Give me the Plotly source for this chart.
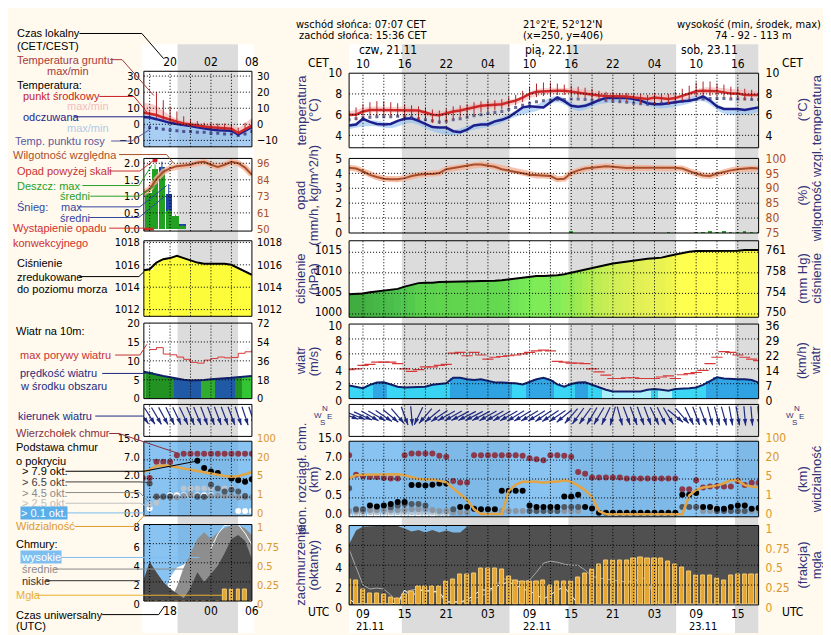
import numpy as np
import pandas as pd
import plotly.graph_objects as go

W, H = 831, 635

# ------------------------------------------------------------------ data
# main meteogram, hourly, UTC
t_start, t_end = "2024-11-21 07:00", "2024-11-23 18:00"
times = pd.date_range(t_start, t_end, freq="h")          # 60 hours

temp_mid = [6.0, 6.0, 6.3, 6.45, 6.45, 6.45, 6.45, 6.45, 6.4, 6.4,
            6.4, 6.2, 6.0, 5.95, 6.15, 6.3, 6.4, 6.55, 6.7, 6.85,
            6.9, 6.95, 7.0, 7.2, 7.35, 7.65, 8.0, 8.2, 8.25, 8.25,
            8.3, 8.3, 8.2, 8.1, 8.05, 7.95, 7.85, 7.8, 7.8, 7.75,
            7.75, 7.65, 7.6, 7.5, 7.65, 7.55, 7.5, 7.6, 7.8, 8.0,
            8.25, 8.3, 8.3, 8.25, 8.15, 8.05, 8.05, 7.9, 7.9, 7.9]
feels = [4.95, 5.05, 5.6, 5.3, 5.1, 5.05, 5.1, 5.4, 5.6, 5.65,
         5.4, 5.1, 4.8, 4.75, 4.75, 4.4, 4.3, 4.55, 4.95, 5.05,
         5.05, 5.35, 5.5, 5.75, 6.2, 6.7, 6.8, 6.77, 6.7, 7.2,
         7.65, 7.3, 6.85, 6.77, 6.85, 7.1, 7.4, 7.6, 7.6, 7.6,
         7.6, 7.5, 7.35, 7.1, 7.0, 7.0, 7.1, 7.25, 7.3, 7.35,
         7.5, 7.75, 7.35, 6.8, 6.55, 6.55, 6.55, 6.45, 6.55, 6.7]
dew_point = [5.5, 5.6, 5.7, 5.75, 5.8, 5.8, 5.8, 5.85, 5.8, 5.75,
             5.6, 5.5, 5.4, 5.3, 5.35, 5.5, 5.6, 5.75, 5.9, 6.0,
             6.1, 6.2, 6.3, 6.5, 6.7, 6.9, 7.1, 7.25, 7.35, 7.4,
             7.45, 7.45, 7.5, 7.5, 7.45, 7.4, 7.4, 7.35, 7.3, 7.25,
             7.2, 7.1, 7.05, 7.0, 7.05, 7.1, 7.1, 7.2, 7.3, 7.4,
             7.45, 7.5, 7.55, 7.55, 7.55, 7.5, 7.5, 7.5, 7.45, 7.45]
ground_max = [6.4, 6.7, 7.0, 7.2, 7.3, 7.3, 7.2, 7.1, 7.0, 6.9,
              6.8, 6.7, 6.5, 6.4, 6.6, 6.8, 6.9, 7.0, 7.2, 7.3,
              7.4, 7.4, 7.5, 7.7, 7.9, 8.3, 8.7, 9.0, 9.1, 9.1,
              9.0, 8.9, 8.8, 8.7, 8.6, 8.5, 8.3, 8.2, 8.2, 8.1,
              8.1, 8.0, 8.0, 7.9, 8.1, 8.0, 8.0, 8.2, 8.5, 8.8,
              9.1, 9.2, 9.2, 9.0, 8.9, 8.7, 8.6, 8.5, 8.4, 8.3]
ground_min = [5.6, 5.5, 5.8, 5.9, 5.9, 5.9, 5.9, 5.8, 5.7, 5.6,
              5.5, 5.4, 5.2, 5.1, 5.3, 5.5, 5.7, 5.8, 6.0, 6.2,
              6.3, 6.4, 6.5, 6.7, 6.9, 7.2, 7.5, 7.7, 7.8, 7.8,
              7.9, 7.9, 7.8, 7.7, 7.6, 7.5, 7.4, 7.3, 7.3, 7.2,
              7.2, 7.1, 7.0, 6.9, 7.0, 7.0, 7.0, 7.1, 7.3, 7.5,
              7.7, 7.8, 7.8, 7.8, 7.7, 7.6, 7.5, 7.4, 7.4, 7.4]

# temperature spread bands, every 3 hours (+ last hour)
band_times = list(times[::3]) + [times[-1]]
temp_max_3h = [6.3, 6.75, 6.75, 6.7, 6.3, 6.55, 7.0, 7.25, 7.55, 8.45, 8.6,
               8.5, 8.2, 8.05, 7.9, 7.9, 7.95, 8.6, 8.55, 8.35, 8.25]
temp_min_3h = [5.75, 6.2, 6.2, 6.15, 5.75, 6.05, 6.45, 6.7, 7.0, 7.8, 8.05,
               7.95, 7.6, 7.5, 7.35, 7.3, 7.4, 8.0, 8.0, 7.8, 7.65]
feels_max_3h = [5.1, 5.45, 5.25, 5.8, 4.95, 4.55, 5.1, 5.5, 6.35, 6.95, 7.8,
                6.95, 7.55, 7.75, 7.5, 7.15, 7.45, 7.9, 6.7, 6.6, 6.85]
feels_min_3h = [4.6, 4.9, 4.7, 5.2, 4.4, 4.0, 4.55, 4.95, 5.8, 6.35, 7.2,
                6.35, 7.0, 7.2, 6.95, 6.6, 6.9, 7.3, 6.1, 6.0, 6.25]

humidity = [96.9, 96.6, 95.7, 94.5, 93.75, 93.2, 93.0, 93.0, 93.4, 94.1,
            94.5, 94.8, 94.8, 95.1, 96.4, 96.8, 97.2, 97.7, 98.0, 98.0,
            97.7, 97.2, 96.4, 96.0, 95.5, 95.0, 94.5, 94.3, 94.3, 94.1,
            93.0, 93.2, 95.1, 96.0, 96.6, 96.9, 97.2, 97.4, 97.2, 96.9,
            96.8, 96.9, 96.9, 97.0, 97.0, 97.0, 96.9, 96.9, 96.6, 95.7,
            94.9, 94.3, 94.1, 94.9, 95.5, 96.0, 96.4, 96.6, 96.8, 96.6]
rain = [0, 0, 0, 0, 0, 0, 0, 0, 0, 0,
        0, 0, 0, 0, 0, 0, 0, 0, 0, 0,
        0, 0, 0, 0, 0, 0, 0, 0, 0, 0,
        0, 0, 0.06, 0, 0, 0, 0, 0, 0, 0,
        0, 0, 0, 0, 0, 0, 0.02, 0, 0, 0,
        0.03, 0.03, 0.04, 0.03, 0.04, 0.03, 0.03, 0.04, 0.03, 0.02]
pressure = [1004.8, 1004.9, 1005.0, 1005.3, 1005.5, 1005.7, 1005.8, 1006.1, 1006.65, 1007.0,
            1007.5, 1007.6, 1007.6, 1007.8, 1007.8, 1007.9, 1007.9, 1007.95, 1007.95, 1008.0,
            1008.0, 1008.1, 1008.2, 1008.4, 1008.6, 1008.8, 1009.1, 1009.25, 1009.25, 1009.25,
            1009.4, 1009.65, 1010.05, 1010.4, 1010.7, 1011.1, 1011.5, 1011.9, 1012.25, 1012.5,
            1012.7, 1013.0, 1013.15, 1013.4, 1013.55, 1013.7, 1014.1, 1014.5, 1014.9, 1015.15,
            1015.3, 1015.3, 1015.3, 1015.3, 1015.3, 1015.4, 1015.4, 1015.55, 1015.55, 1015.55]
wind = [1.75, 1.6, 1.4, 1.85, 2.15, 2.2, 1.9, 1.6, 1.5, 1.5,
        1.5, 1.6, 1.85, 1.95, 2.05, 2.8, 2.8, 2.6, 2.5, 2.6,
        2.35, 2.15, 2.15, 2.15, 2.05, 1.9, 2.25, 2.6, 2.8, 2.5,
        1.9, 1.6, 1.95, 2.15, 2.2, 1.85, 1.5, 1.2, 0.95, 0.95,
        1.05, 0.95, 0.95, 1.2, 1.3, 1.2, 1.05, 1.3, 1.4, 1.4,
        1.5, 1.85, 2.35, 2.85, 2.7, 2.6, 2.6, 2.6, 2.5, 2.15]
gusts = [3.9, 4.0, 4.45, 4.6, 4.9, 4.9, 4.9, 4.7, 4.0, 3.65,
         3.9, 4.25, 4.25, 4.45, 4.6, 6.1, 6.2, 5.75, 6.2, 5.85,
         5.3, 5.55, 5.65, 5.75, 5.85, 6.0, 6.2, 6.4, 6.5, 6.4,
         5.0, 4.9, 4.75, 4.75, 4.7, 4.0, 3.6, 3.15, 2.7, 2.7,
         2.8, 2.8, 2.7, 2.7, 2.7, 2.9, 3.05, 2.7, 3.2, 3.35,
         3.5, 3.8, 4.7, 5.55, 6.3, 6.2, 5.85, 5.55, 5.3, 5.1]
wind_dir = [290, 292, 295, 300, 300, 305, 310, 320, 340, 355,
            25, 40, 50, 55, 60, 60, 62, 62, 62, 62,
            60, 60, 60, 60, 58, 58, 58, 58, 55, 55,
            55, 50, 40, 35, 35, 30, 30, 25, 15, 345,
            340, 340, 340, 340, 335, 335, 330, 310, 320, 335,
            340, 340, 345, 345, 345, 350, 350, 355, 355, 355]

# clouds (km) and visibility (km)
cloud_top = [9.1, 3.15, 2.75, 2.5, 2.5, 2.3, 2.15, 2.15, 9.1, 9.8,
             9.8, 9.8, 9.8, 8.85, 8.45, 1.85, 1.73, 1.73, 9.1, 9.1,
             9.1, 9.1, 9.1, 9.1, 9.1, 8.85, 7.8, 7.4, 7.0, 9.1,
             9.1, 8.85, 8.45, 3.85, 3.4, 2.4, 2.4, 2.4, 2.4, 2.4,
             2.15, 2.15, 2.15, 2.15, 2.15, 2.15, 2.15, 2.15, 1.19, 1.19,
             1.91, 1.33, 1.4, 1.45, 1.4, 1.4, 1.84, 1.52, 1.7, 1.7]
base_79 = [None, None, None, 0.3, 0.27, 0.3, 0.34, 0.39, 0.39, 1.52,
           1.52, 1.49, 1.55, 1.65, 1.65, None, 0.26, 0.26, 0.21, 0.2,
           0.2, 0.2, 1.06, 1.06, 1.06, 1.06, 0.3, 0.26, 0.26, 0.26,
           0.26, 0.62, 0.62, 0.75, 0.26, 0.22, 0.11, 0.11, 0.11, 0.11,
           0.11, 0.11, 0.11, 0.11, 0.11, 0.11, 0.11, 0.11, 0.75, 0.75,
           0.88, 0.26, 0.26, 0.21, 0.21, 0.26, 0.3, 0.3, 0.21, 0.23]
base_65 = [1.27, 0.2, 0.2, None, None, None, 0.25, 0.3, 0.34, 0.34,
           0.34, 0.3, None, None, None, 0.2, None, None, None, None,
           None, None, None, None, None, None, 0.15, 0.15, 0.15, 0.15,
           0.15, 0.26, 0.26, 0.26, None, None, None, None, None, None,
           None, None, None, None, None, None, None, None, 0.26, 0.26,
           0.26, None, None, 0.15, 0.15, 0.15, 0.15, 0.15, None, None]
base_45 = [0.15, 0.15, 0.15, 0.18, 0.18, 0.18, 0.18, 0.18, 0.18, 0.2,
           0.2, 0.2, 0.18, 0.15, 0.15, 0.12, 0.12, 0.12, None, None,
           None, None, 0.15, 0.15, 0.15, 0.15, None, None, None, None,
           None, 0.15, 0.15, 0.15, None, None, None, None, None, None,
           None, None, None, None, None, None, None, None, None, None,
           None, 0.15, 0.15, None, None, None, None, None, 0.15, 0.15]
base_25 = [0.1, 0.1, 0.1, 0.12, 0.12, 0.12, 0.12, 0.12, 0.12, 0.12,
           0.12, 0.12, 0.12, 0.1, 0.1, None, None, None, None, None,
           None, None, None, None, None, None, None, None, None, None,
           None, None, None, None, None, None, None, None, None, None,
           None, None, None, None, None, None, None, None, None, None,
           None, None, None, None, None, None, None, None, None, None]
base_01 = [0.05, 0.05, 0.05, 0.05, 0.05, 0.05, 0.05, 0.05, 0.05, 0.05,
           0.05, 0.05, 0.05, 0.05, 0.05, None, None, None, None, None,
           None, None, None, None, None, None, None, None, None, None,
           None, None, None, None, None, None, None, None, None, None,
           None, None, None, None, None, None, None, None, None, None,
           None, None, None, None, None, None, None, None, None, None]
visibility = [5.45, 8.0, 8.3, 8.45, 8.75, 8.75, 8.75, 8.75, 8.0, 6.5,
              5.0, 4.9, 4.9, 4.6, 4.3, 3.0, 1.7, 0.9, 0.4, 0.15,
              0.15, 0.15, 0.15, 2.5, 3.8, 4.4, 4.4, 4.4, 4.2, 4.4,
              4.4, 4.75, 4.4, 3.6, 2.6, 1.2, 0.3, 0.14, 0.14, 0.14,
              0.14, 0.14, 0.14, 0.14, 0.14, 0.14, 0.14, 0.14, 0.14, 1.5,
              2.7, 3.2, 3.4, 3.6, 4.1, 4.75, 4.75, 3.7, 3.4, 3.2]

# cloud cover (octants) and fog (fraction)
low_cloud = [6.1, 7.5, 7.9, 7.95, 7.95, 7.95, 7.95, 7.95, 7.7, 7.4,
             7.55, 7.3, 7.55, 7.3, 7.5, 7.3, 7.3, 7.9, 8.0, 8.0,
             8.0, 8.0, 8.0, 8.0, 8.0, 8.0, 8.0, 8.0, 8.0, 8.0,
             8.0, 8.0, 8.0, 8.0, 8.0, 8.0, 8.0, 8.0, 8.0, 8.0,
             8.0, 8.0, 8.0, 8.0, 7.95, 7.95, 8.0, 8.0, 8.0, 8.0,
             8.0, 8.0, 8.0, 8.0, 8.0, 8.0, 8.0, 8.0, 8.0, 8.0]
mid_line = [5.6, 3.8, 2.0, 1.6, 1.7, 1.6, 1.0, 0.1, 1.3, 1.5,
            1.6, 1.5, 1.4, 1.0, 0.3, 0.3, 0.3, 0.3, 0.6, 0.9,
            1.2, 1.8, 2.6, 2.6, 2.4, 2.3, 2.5, 3.3, 4.2, 4.4,
            4.3, 4.1, 4.0, 4.0, 3.5, 2.9, 2.7, 2.6, 2.5, 2.4,
            2.3, 2.4, 2.6, 2.8, 0.4, 0.1, 0.1, 0.1, 0.1, 0.1,
            0.1, 0.1, 0.1, 0.1, 0.1, 0.1, 0.1, 0.1, 0.1, 0.1]
high_line = [0.6, 0.1, 0.1, 0.1, 0.1, 0.1, 0.1, 0.2, 1.5, 0.8,
             1.5, 1.4, 1.4, 1.3, 0.3, 0.3, 0.3, 0.5, 1.0, 1.5,
             1.5, 1.8, 2.1, 2.3, 2.0, 1.6, 1.4, 1.0, 0.6, 1.0,
             1.5, 1.8, 0.9, 0.1, 0.05, 0.05, 0.05, 0.05, 0.05, 0.05,
             0.05, 0.05, 0.05, 0.05, 0.05, 0.05, 0.05, 0.05, 0.05, 0.05,
             0.05, 0.05, 0.05, 0.05, 0.05, 0.05, 0.05, 0.05, 0.05, 0.05]
fog = [0.32, 0.31, 0.2, 0.15, 0.15, 0.13, 0.09, 0.08, 0.13, 0.17,
       0.23, 0.23, 0.23, 0.23, 0.3, 0.32, 0.38, 0.38, 0.4, 0.455,
       0.46, 0.46, 0.44, 0.36, 0.31, 0.29, 0.29, 0.29, 0.31, 0.25,
       0.29, 0.29, 0.29, 0.34, 0.4, 0.44, 0.51, 0.56, 0.56, 0.56,
       0.56, 0.59, 0.6, 0.59, 0.59, 0.59, 0.55, 0.51, 0.47, 0.42,
       0.37, 0.37, 0.37, 0.33, 0.31, 0.37, 0.38, 0.38, 0.38, 0.38]

sunset_utc = ["2024-11-21 14:36", "2024-11-22 14:36", "2024-11-23 14:36"]
sunrise_utc = ["2024-11-22 06:07", "2024-11-23 06:07", t_end]

base_scale = [0.0, 0.5, 2.0, 7.0, 15.0]     # cloud height axis (km)
vis_scale = [0, 1, 5, 20, 100]              # visibility axis (km)

# legend mini meteogram (left column), hours UTC
mini_hours = list(range(14, 31))
mini_night = (19.1, 27.97)
mini_temp = [7.4, 6.8, 5.8, 4.2, 2.8, 1.6, 0.5, -0.2, -0.8, -1.4, -1.8, -2.1, -2.4, -2.8, -5.4, -3.0, -0.8]
mini_feels = [4.6, 4.2, 3.2, 2.0, 0.9, 0.2, -0.3, -1.0, -1.8, -2.6, -3.2, -3.7, -4.0, -4.0, -6.4, -4.2, -1.8]
mini_temp_max = [13.2, 13.0, 11.5, 8.5, 5.5, 3.5, 2.0, 1.5, 1.0, 0.5, 0.5, 0.0, 0.0, -0.5, -2.5, 0.5, 4.0]
mini_temp_min = [5.8, 5.5, 4.5, 3.0, 1.5, 0.5, -0.5, -1.2, -1.8, -2.4, -2.8, -3.0, -3.4, -3.8, -6.5, -4.0, -2.0]
mini_feels_max = [6.8, 6.5, 5.5, 4.0, 2.5, 1.5, 1.0, 0.5, 0.0, -0.5, -1.0, -1.5, -2.0, -2.5, -4.5, -2.5, 0.5]
mini_feels_min = [-14, -14, -14, -14, -14, -14, -14, -14, -14, -14, -14, -14, -14, -14, -14, -14, -14]
mini_dew = [-1.5, -2.0, -2.5, -3.0, -3.5, -4.0, -4.5, -4.5, -5.0, -5.0, -5.5, -5.5, -6.0, -6.0, -7.0, -6.0, -4.5]
mini_ground_max = [None, 8.0, 20, 15, 11, 8, 5, 3, 2, 1, 1, 0.5, 0.5, 0, -2, 1, 3]
mini_ground_min = [None, 5, 4, 2.5, 1.0, 0, -1, -1.5, -2, -2.5, -3, -3, -3.5, -4, -6, -4, -2]
mini_hum = [75, 78, 85, 90, 92.5, 94, 94.5, 95, 96.5, 97, 95, 93.5, 95, 97, 96, 93, 88]
mini_rain_hours = [14.8, 15.8, 16.8, 17.8, 18.8, 19.8]
mini_rain = [1.1, 1.8, 1.7, 0.55, 0.4, 0.1]
mini_rain_max = [1.2, 1.97, 1.9, 0.6, 0.45, 0.12]
mini_snow = [0.0, 0.0, 0.17, 0.52, 0.0, 0.05]
mini_snow_max = [None, None, 2.05, 1.37, None, None]
mini_over_scale = ([15.8], [2.1])
mini_convective = ([14.6], [0.0])
mini_pressure = [1015.5, 1015.6, 1016.2, 1016.5, 1016.6, 1016.8, 1016.6, 1016.4, 1016.2,
                 1016.1, 1016.1, 1016.1, 1016.1, 1016.0, 1015.7, 1015.4, 1015.1]
mini_wind = [7.2, 6.9, 6.4, 6.0, 5.6, 5.2, 5.0, 4.8, 4.8, 4.9, 5.1, 5.3, 5.4, 5.5, 5.6, 5.8, 6.0]
mini_gust = [None, 13.0, 13.5, 11.8, 11.6, 11.0, 10.4, 9.6, 9.4, 10.2, 10.6, 11.0, 10.8, 10.9, 12.0, 12.4, 12.8]
mini_dir = [325, 328, 330, 332, 335, 335, 335, 338, 338, 340, 340, 340, 340, 340, 342, 342, 342]
mini_top = [2.15, 2.15, 6.5, 6.5, 6.4, 9.0, 9.6, 9.6, 9.6, 9.6, 9.6, 9.6, 9.6, 9.6, 9.6, 9.6, 9.6]
mini_base_79 = [None, None, None, None, None, None, None, None, 6.8, 4.8, 3.9, 3.5, None, 2.0, 1.87, 1.74, 1.95]
mini_base_65 = [None, 1.6, 0.55, 0.55, 0.55, None, None, None, 0.53, 0.53, 1.5, 1.2, 0.95, 1.1, 0.95, 0.6, None]
mini_base_45 = [None, None, 0.5, 0.5, 0.5, 0.5, 0.6, 0.7, 0.6, 0.5, 0.6, 0.6, 0.6, 0.6, 0.5, 0.5, 0.5]
mini_base_25 = [None, 0.3, 0.35, None, None, None, 1.2, 1.2, 1.2, 1.2, 1.2, 1.2, 1.2, 1.2, None, None, None]
mini_base_01 = [None, 0.2, None, None, 0.65, 0.65, 0.65, 0.65, 0.65, 0.65, 0.65, None, None, None, 0.13, 0.13, 0.13]
mini_vis = [10.2, 12, 15, 15.5, 15, 14, 13, 11.5, 10.5, 10, 8.5, 7.6, 7, 6.5, 7, 8.5, 10.2]
mini_low = [2.0, 4.1, 3.0, 2.0, 1.3, 0.8, 0.3, 1.4, 3.0, 2.0, 2.8, 3.7, 5.0, 6.5, 6.9, 6.3, 4.4]
mini_mid = [0, 0, 0, 0, 0, 1.5, 3.5, 5.0, 6.5, 7.2, 6.5, 7.2, 7.6, 7.9, 7.9, 7.6, 6.9]
mini_high = [0, 0, 0, 0, 2.5, 3.5, 3.8, 4.4, 4.8, 5.1, 5.0, 4.0, 3.0, 2.0, 1.0, 0.5, 0]
mini_white_line = [None, None, None, None, None, None, None, None, None, None, 5.5, 7.0, 7.9, 8.0, 8.0, 7.1, 5.9]
mini_fog = [0, 0, 0, 0, 0, 0, 0, 0, 0, 0, 0, 0, 0.15, 0.15, 0.15, 0.15, 0]

# ------------------------------------------------------------------ styles
NARROW = "Liberation Sans Narrow, Arial Narrow, DejaVu Sans Condensed, sans-serif"
SANS = "Liberation Sans, Arial, sans-serif"
TICK = dict(family=NARROW, size=12, color="black")
MINI_TICK = dict(family=NARROW, size=11, color="black")
TITLE_C = "#33337A"
NAVY = "#1E2A80"
ORANGE = "#D8982E"
BROWN = "#A8502C"
GRID = dict(color="black", width=1, dash="1px,2px")


def to_u(vals, scale):
    return [None if v is None else float(np.interp(v, scale, range(5))) for v in vals]


def ydom(top, bottom):
    return [1 - bottom / H, 1 - top / H]


def left_axis(top, bottom, rng, anchor, tickvals=(), ticktext=None, standoff=6, font=TICK, shift=0):
    d = dict(domain=ydom(top, bottom), range=rng, anchor=anchor, showgrid=False,
             zeroline=False, ticks="", showline=False, tickfont=font, ticklabelshift=shift,
             ticklabelstandoff=standoff, tickvals=list(tickvals), fixedrange=True)
    if ticktext is not None:
        d["ticktext"] = ticktext
    return d


def right_axis(over, rng, anchor, tickvals=(), ticktext=None, color="black", standoff=6, font=TICK, shift=0):
    d = dict(overlaying=over, side="right", range=rng, anchor=anchor, showgrid=False,
             zeroline=False, ticks="", showline=False, tickfont=dict(font, color=color),
             ticklabelshift=shift, ticklabelstandoff=standoff, tickvals=list(tickvals), fixedrange=True)
    if ticktext is not None:
        d["ticktext"] = ticktext
    return d


def segments(xs, lo, hi):
    sx, sy = [], []
    for x, a, b in zip(xs, lo, hi):
        if a is None or b is None:
            continue
        sx += [x, x, None]
        sy += [a, b, None]
    return sx, sy


def arrows(xs, dirs, px_per_x, shift, strip_px=33.0, length=20.0, yc=0.64):
    sx, sy, hx, hy, ang = [], [], [], [], []
    for x, d in zip(xs, dirs):
        to = (d + 180) % 360
        r = np.radians(to)
        dx = length * np.sin(r) / px_per_x
        dy = length * np.cos(r) / strip_px
        tail_x, head_x = shift(x, -dx / 2), shift(x, dx / 2)
        sx += [tail_x, head_x, None]
        sy += [yc - dy / 2, yc + dy / 2, None]
        hx.append(head_x)
        hy.append(yc + dy / 2)
        ang.append(to)
    return sx, sy, hx, hy, ang


fig = go.Figure()
M = dict(xaxis="x")
S = dict(xaxis="x2")

# ---------------- main: temperature
fig.add_trace(go.Scatter(x=band_times, y=temp_max_3h, yaxis="y", mode="lines", line=dict(width=0, shape="spline"), **M))
fig.add_trace(go.Scatter(x=band_times, y=temp_min_3h, yaxis="y", mode="lines", line=dict(width=0, shape="spline"),
                         fill="tonexty", fillcolor="rgba(246,170,170,0.55)", **M))
fig.add_trace(go.Scatter(x=band_times, y=feels_max_3h, yaxis="y", mode="lines", line=dict(width=0, shape="spline"), **M))
fig.add_trace(go.Scatter(x=band_times, y=feels_min_3h, yaxis="y", mode="lines", line=dict(width=0, shape="spline"),
                         fill="tonexty", fillcolor="rgba(140,190,240,0.6)", **M))
gx, gy = segments(times, ground_min, ground_max)
fig.add_trace(go.Scatter(x=gx, y=gy, yaxis="y8", mode="lines", line=dict(color="#B02828", width=1), **M))
fig.add_trace(go.Scatter(x=times, y=dew_point, yaxis="y", mode="markers",
                         marker=dict(symbol="square", size=3, color="#6A6C96"), **M))
fig.add_trace(go.Scatter(x=times, y=feels, yaxis="y", mode="lines", line=dict(color="#1E1E8C", width=2.5), **M))
fig.add_trace(go.Scatter(x=times, y=temp_mid, yaxis="y", mode="lines", line=dict(color="#D02828", width=2.5), **M))

# ---------------- main: precipitation / humidity
fig.add_trace(go.Bar(x=times, y=rain, yaxis="y2", marker=dict(color="#28A028", line=dict(width=0)),
                     width=1800000, **M))
fig.add_trace(go.Scatter(x=times, y=humidity, yaxis="y9", mode="lines", line=dict(color="rgba(244,176,150,0.8)", width=6), **M))
fig.add_trace(go.Scatter(x=times, y=humidity, yaxis="y9", mode="lines", line=dict(color=BROWN, width=2), **M))

# ---------------- main: pressure
P_LO = 999.2
PRESS_SCALE = [[0, "#129212"], [0.18, "#2CBE2C"], [0.41, "#5AE632"], [0.59, "#A6F032"],
               [0.77, "#E0F43A"], [0.95, "#FFFF28"], [1, "#FFFF28"]]
fig.add_trace(go.Bar(x=times, y=[p - P_LO for p in pressure], base=P_LO, yaxis="y3", width=3600000,
                     marker=dict(color=pressure, colorscale=PRESS_SCALE, cmin=1004.5, cmax=1015.5, line=dict(width=0)),
                     opacity=0.82, **M))
fig.add_trace(go.Scatter(x=times, y=pressure, yaxis="y10", mode="lines", line=dict(color="black", width=2), **M))

# ---------------- main: wind
WIND_SCALE = [[0, "#A4F2FF"], [0.417, "#A4F2FF"], [0.417, "#26D2F4"], [0.7, "#26D2F4"],
              [0.7, "#1C9CE2"], [1, "#1C9CE2"]]
fig.add_trace(go.Bar(x=times, y=wind, yaxis="y4", width=3600000,
                     marker=dict(color=wind, colorscale=WIND_SCALE, cmin=0, cmax=3, line=dict(width=0)),
                     opacity=0.9, **M))
fig.add_trace(go.Scatter(x=times, y=wind, yaxis="y4", mode="lines", line=dict(color="#10206A", width=2), **M))
fig.add_trace(go.Scatter(x=times, y=gusts, yaxis="y11", mode="markers",
                         marker=dict(symbol="line-ew", size=8, line=dict(width=1.2, color="#D83838")), **M))

# ---------------- main: wind direction
sx, sy, hx, hy, ang = arrows(times, wind_dir, 413 / 59, lambda t, h: t + pd.Timedelta(hours=h))
fig.add_trace(go.Scatter(x=sx, y=sy, yaxis="y5", mode="lines", line=dict(color=NAVY, width=1.2), **M))
fig.add_trace(go.Scatter(x=hx, y=hy, yaxis="y5", mode="markers",
                         marker=dict(symbol="arrow", size=7, angle=ang, color=NAVY, line=dict(width=0)), **M))

# ---------------- main: cloud base / top, visibility
for vals, col in [(base_01, "#FFFFFF"), (base_25, "#B8C4D0"), (base_45, "#8A96A4"),
                  (base_65, "#4E5964"), (base_79, "#000000"), (cloud_top, "#8B3A4C")]:
    fig.add_trace(go.Scatter(x=times, y=to_u(vals, base_scale), yaxis="y6", mode="markers",
                             marker=dict(size=6, color=col, line=dict(width=0)), **M))
fig.add_trace(go.Scatter(x=times, y=to_u(visibility, vis_scale), yaxis="y12", mode="lines",
                         line=dict(color="#E2A444", width=2.5), **M))

# ---------------- main: cloud cover, fog
fig.add_trace(go.Scatter(x=times, y=low_cloud, yaxis="y7", mode="lines", line=dict(width=0),
                         fill="tozeroy", fillcolor="#505050", **M))
fig.add_trace(go.Scatter(x=times, y=mid_line, yaxis="y7", mode="lines", line=dict(color="#A8A8A8", width=1), **M))
fig.add_trace(go.Scatter(x=times, y=high_line, yaxis="y7", mode="lines", line=dict(color="#FFFFFF", width=1), **M))
fig.add_trace(go.Bar(x=times, y=fog, yaxis="y13", width=2200000,
                     marker=dict(color="#E6A52E", line=dict(width=1, color="#F4CC74")), **M))

# ---------------- legend mini meteogram
fig.add_trace(go.Scatter(x=mini_hours, y=mini_feels_max, yaxis="y14", mode="lines", line=dict(width=0), **S))
fig.add_trace(go.Scatter(x=mini_hours, y=mini_feels_min, yaxis="y14", mode="lines", line=dict(width=0),
                         fill="tonexty", fillcolor="rgba(140,190,240,0.75)", **S))
fig.add_trace(go.Scatter(x=mini_hours, y=mini_temp_max, yaxis="y14", mode="lines", line=dict(width=0), **S))
fig.add_trace(go.Scatter(x=mini_hours, y=mini_temp_min, yaxis="y14", mode="lines", line=dict(width=0),
                         fill="tonexty", fillcolor="rgba(246,170,170,0.6)", **S))
gx, gy = segments(mini_hours, mini_ground_min, mini_ground_max)
fig.add_trace(go.Scatter(x=gx, y=gy, yaxis="y21", mode="lines", line=dict(color="#B02828", width=1), **S))
fig.add_trace(go.Scatter(x=mini_hours, y=mini_dew, yaxis="y14", mode="markers",
                         marker=dict(symbol="square", size=3, color="#4E5290"), **S))
fig.add_trace(go.Scatter(x=mini_hours, y=mini_feels, yaxis="y14", mode="lines", line=dict(color="#1E1E8C", width=2.5), **S))
fig.add_trace(go.Scatter(x=mini_hours, y=mini_temp, yaxis="y14", mode="lines", line=dict(color="#D02828", width=2.5), **S))

fig.add_trace(go.Bar(x=mini_rain_hours, y=mini_rain, yaxis="y15", width=0.95,
                     marker=dict(color="#22A022", line=dict(width=0)), **S))
fig.add_trace(go.Bar(x=mini_rain_hours, y=mini_snow, base=mini_rain, yaxis="y15", width=0.95,
                     marker=dict(color="#2040A8", line=dict(width=0)), **S))
rx, ry = segments(mini_rain_hours, mini_rain, mini_rain_max)
fig.add_trace(go.Scatter(x=rx, y=ry, yaxis="y15", mode="lines", line=dict(color="#30C030", width=1), **S))
nx, ny = segments(mini_rain_hours, [r + s for r, s in zip(mini_rain, mini_snow)], mini_snow_max)
fig.add_trace(go.Scatter(x=nx, y=ny, yaxis="y15", mode="lines", line=dict(color="#2040A8", width=1), **S))
fig.add_trace(go.Scatter(x=mini_over_scale[0], y=mini_over_scale[1], yaxis="y15", mode="markers",
                         marker=dict(size=5, color="#D02020"), **S))
fig.add_trace(go.Scatter(x=mini_convective[0], y=mini_convective[1], yaxis="y15", mode="markers",
                         marker=dict(symbol="line-ew", size=10, line=dict(width=2, color="#D02020")), **S))
fig.add_trace(go.Scatter(x=mini_hours, y=mini_hum, yaxis="y22", mode="lines", line=dict(color="rgba(244,176,150,0.8)", width=6), **S))
fig.add_trace(go.Scatter(x=mini_hours, y=mini_hum, yaxis="y22", mode="lines", line=dict(color=BROWN, width=2), **S))

fig.add_trace(go.Bar(x=mini_hours, y=[p - 1011.4 for p in mini_pressure], base=1011.4, yaxis="y16", width=1.0,
                     marker=dict(color=mini_pressure, colorscale=PRESS_SCALE, cmin=1004.5, cmax=1015.5, line=dict(width=0)),
                     opacity=0.9, **S))
fig.add_trace(go.Scatter(x=mini_hours, y=mini_pressure, yaxis="y23", mode="lines", line=dict(color="black", width=2), **S))

MINI_WIND_COLORS = ["#22C022", "#108A10", "#108A10", "#108A10", "#108A10", "#104EA0", "#104EA0", "#104EA0",
                    "#104EA0", "#22A822", "#22A822", "#104EA0", "#104EA0", "#104EA0", "#108A10", "#22C022", "#22C022"]
fig.add_trace(go.Bar(x=mini_hours, y=mini_wind, yaxis="y17", width=1.0,
                     marker=dict(color=MINI_WIND_COLORS, line=dict(width=0)), opacity=0.92, **S))
fig.add_trace(go.Scatter(x=mini_hours, y=mini_wind, yaxis="y17", mode="lines", line=dict(color="#10206A", width=2), **S))
fig.add_trace(go.Scatter(x=mini_hours, y=mini_gust, yaxis="y24", mode="lines", line=dict(color="#D83838", width=1, shape="hv"), **S))

sx, sy, hx, hy, ang = arrows(mini_hours, mini_dir, 6.875, lambda x, h: x + h)
fig.add_trace(go.Scatter(x=sx, y=sy, yaxis="y18", mode="lines", line=dict(color=NAVY, width=1.2), **S))
fig.add_trace(go.Scatter(x=hx, y=hy, yaxis="y18", mode="markers",
                         marker=dict(symbol="arrow", size=7, angle=ang, color=NAVY, line=dict(width=0)), **S))

for vals, col in [(mini_base_01, "#FFFFFF"), (mini_base_25, "#B8C4D0"), (mini_base_45, "#8A96A4"),
                  (mini_base_65, "#4E5964"), (mini_base_79, "#000000"), (mini_top, "#8B3A4C")]:
    fig.add_trace(go.Scatter(x=mini_hours, y=to_u(vals, base_scale), yaxis="y19", mode="markers",
                             marker=dict(size=6, color=col, line=dict(width=0)), **S))
fig.add_trace(go.Scatter(x=mini_hours, y=to_u(mini_vis, vis_scale), yaxis="y25", mode="lines",
                         line=dict(color="#E2A444", width=2.5), **S))

fig.add_trace(go.Scatter(x=mini_hours, y=mini_high, yaxis="y20", mode="lines", line=dict(width=0),
                         fill="tozeroy", fillcolor="#FFFFFF", **S))
fig.add_trace(go.Scatter(x=mini_hours, y=mini_mid, yaxis="y20", mode="lines", line=dict(width=0),
                         fill="tozeroy", fillcolor="#8E8E8E", **S))
fig.add_trace(go.Scatter(x=mini_hours, y=mini_low, yaxis="y20", mode="lines", line=dict(width=0),
                         fill="tozeroy", fillcolor="#4A4A4A", **S))
fig.add_trace(go.Scatter(x=mini_hours, y=mini_white_line, yaxis="y20", mode="lines", line=dict(color="white", width=1), **S))
fig.add_trace(go.Bar(x=mini_hours, y=mini_fog, yaxis="y26", width=0.55,
                     marker=dict(color="#E6A52E", line=dict(width=1, color="#F4CC74")), **S))

# anchors for the local-time axes on top
fig.add_trace(go.Scatter(x=[times[0]], y=[None], xaxis="x3", yaxis="y", mode="markers"))
fig.add_trace(go.Scatter(x=[15], y=[None], xaxis="x4", yaxis="y14", mode="markers"))

# ------------------------------------------------------------------ axes
grid_times = pd.date_range("2024-11-21 09:00", t_end, freq="3h")
utc_text = [f"{t:%H}" if t.hour % 6 == 3 else "" for t in grid_times]
cet_vals = [t for t in grid_times if t.hour % 6 == 3]
cet_text = [f"{(t.hour + 1) % 24:02d}" for t in cet_vals]
day_marks = [t for t in grid_times if t.hour == 9]

mini_grid = [15, 18, 21, 24, 27, 30]
mini_utc_text = ["", "18", "", "00", "", "06"]
mini_cet_vals = [18, 24, 30]
mini_cet_text = ["20", "02", "08"]

# label nudges where neighbouring panels' scales meet
UP, DOWN = -3, 3

xcommon = dict(showgrid=False, zeroline=False, ticks="", showline=False, tickfont=TICK, fixedrange=True)
layout_axes = dict(
    xaxis=dict(xcommon, domain=[344 / W, 757 / W], type="date", range=[t_start, t_end], anchor="y7",
               tickvals=list(grid_times), ticktext=utc_text, ticklabelstandoff=0),
    xaxis3=dict(xcommon, overlaying="x", side="top", type="date", range=[t_start, t_end], anchor="y",
                tickvals=cet_vals, ticktext=cet_text, ticklabelstandoff=2),
    xaxis2=dict(xcommon, domain=[137 / W, 246 / W], range=[14.15, 30.01], anchor="y20",
                tickvals=mini_grid, ticktext=mini_utc_text, ticklabelstandoff=1),
    xaxis4=dict(xcommon, overlaying="x2", side="top", range=[14.15, 30.01], anchor="y14",
                tickvals=mini_cet_vals, ticktext=mini_cet_text, ticklabelstandoff=2),

    yaxis=left_axis(57, 134, [2.8, 10], "x", [4, 6, 8, 10]),
    yaxis2=left_axis(145, 222, [0, 5], "x", [0, 1, 2, 3, 4, 5]),
    yaxis3=left_axis(230, 309, [P_LO, 1017.8], "x", [1000, 1005, 1010, 1015], shift=-2),
    yaxis4=left_axis(316, 393, [0, 10], "x", [0, 2, 4, 6, 8, 10], shift=2),
    yaxis5=left_axis(399, 432, [0, 1], "x", []),
    yaxis6=left_axis(437, 515, [0, 4], "x", [0, 1, 2, 3, 4], [f"{v:.1f}" for v in base_scale], shift=UP),
    yaxis7=left_axis(524, 606, [0, 8], "x", [0, 2, 4, 6, 8], shift=DOWN),
    yaxis8=right_axis("y", [2.8, 10], "x", [4, 6, 8, 10]),
    yaxis9=right_axis("y2", [75, 100], "x", [75, 80, 85, 90, 95, 100], color=BROWN),
    yaxis10=right_axis("y3", [P_LO, 1017.8], "x", [1000, 1005, 1010, 1015], ["750", "754", "758", "761"], shift=-2),
    yaxis11=right_axis("y4", [0, 10], "x", [0, 2, 4, 6, 8, 10], ["0", "7", "14", "22", "29", "36"], shift=2),
    yaxis12=right_axis("y6", [0, 4], "x", [0, 1, 2, 3, 4], [str(v) for v in vis_scale], color=ORANGE, shift=UP),
    yaxis13=right_axis("y7", [0, 1], "x", [0, 0.25, 0.5, 0.75, 1], ["0", "0.25", "0.5", "0.75", "1"],
                       color=ORANGE, shift=DOWN),

    yaxis14=left_axis(55, 133, [-14, 33], "x2", [-10, 0, 10, 20, 30], standoff=3, font=MINI_TICK),
    yaxis15=left_axis(145, 220, [-0.05, 2.146], "x2", [0, 0.5, 1, 1.5, 2], ["0.0", "0.5", "1.0", "1.5", "2.0"],
                      standoff=3, font=MINI_TICK),
    yaxis16=left_axis(230, 308, [1011.4, 1018.15], "x2", [1012, 1014, 1016, 1018], standoff=3, font=MINI_TICK),
    yaxis17=left_axis(315, 393, [0, 20], "x2", [0, 5, 10, 15, 20], standoff=3, font=MINI_TICK),
    yaxis18=left_axis(399, 432, [0, 1], "x2", []),
    yaxis19=left_axis(437, 514, [0, 4], "x2", [0, 1, 2, 3, 4], [f"{v:.1f}" for v in base_scale],
                      standoff=3, font=MINI_TICK, shift=UP),
    yaxis20=left_axis(523, 602, [0, 8], "x2", [0, 2, 4, 6, 8], standoff=3, font=MINI_TICK, shift=DOWN),
    yaxis21=right_axis("y14", [-14, 33], "x2", [-10, 0, 10, 20, 30], standoff=4, font=MINI_TICK),
    yaxis22=right_axis("y15", [48.85, 99.36], "x2", [50, 61.5, 73, 84.5, 96], ["50", "61", "73", "84", "96"],
                       color=BROWN, standoff=4, font=MINI_TICK),
    yaxis23=right_axis("y16", [1011.4, 1018.15], "x2", [1012, 1014, 1016, 1018], standoff=4, font=MINI_TICK),
    yaxis24=right_axis("y17", [0, 20], "x2", [0, 5, 10, 15, 20], ["0", "18", "36", "54", "72"],
                       standoff=4, font=MINI_TICK),
    yaxis25=right_axis("y19", [0, 4], "x2", [0, 1, 2, 3, 4], [str(v) for v in vis_scale], color=ORANGE,
                       standoff=4, font=MINI_TICK, shift=UP),
    yaxis26=right_axis("y20", [0, 1], "x2", [0, 0.25, 0.5, 0.75, 1], ["0", "0.25", "0.5", "0.75", "1"],
                       color=ORANGE, standoff=4, font=MINI_TICK, shift=DOWN),
)

# ------------------------------------------------------------------ shapes
shapes = []
top_white = 1 - 27 / H
shapes.append(dict(type="rect", xref="x domain", yref="paper", x0=0, x1=1, y0=0, y1=top_white,
                   fillcolor="white", line=dict(width=0), layer="below"))
shapes.append(dict(type="rect", xref="paper", yref="paper", x0=135 / W, x1=248 / W, y0=0, y1=top_white,
                   fillcolor="white", line=dict(width=0), layer="below"))
for s, e in zip(sunset_utc, sunrise_utc):
    shapes.append(dict(type="rect", xref="x", yref="paper", x0=s, x1=e, y0=0, y1=top_white,
                       fillcolor="#DCDCDC", line=dict(width=0), layer="below"))
shapes.append(dict(type="rect", xref="x2", yref="paper", x0=mini_night[0], x1=mini_night[1], y0=0, y1=top_white,
                   fillcolor="#DCDCDC", line=dict(width=0), layer="below"))
for xr, yr in [("x", "y6"), ("x", "y7"), ("x2", "y19"), ("x2", "y20")]:
    shapes.append(dict(type="rect", xref=f"{xr} domain", yref=f"{yr} domain", x0=0, x1=1, y0=0, y1=1,
                       fillcolor="rgba(92,172,236,0.72)", line=dict(width=0), layer="below"))

main_panels = [("y", [4, 6, 8]), ("y2", [1, 2, 3, 4]), ("y3", [1000, 1005, 1010, 1015]), ("y4", [2, 4, 6, 8]),
               ("y5", []), ("y6", [1, 2, 3]), ("y7", [2, 4, 6])]
mini_panels = [("y14", [-10, 0, 10, 20, 30]), ("y15", [0.5, 1, 1.5, 2]), ("y16", [1012, 1014, 1016, 1018]),
               ("y17", [5, 10, 15]), ("y18", []), ("y19", [1, 2, 3]), ("y20", [2, 4, 6])]
for xr, xv, panels in [("x", list(grid_times[:-1]), main_panels), ("x2", mini_grid[:-1], mini_panels)]:
    for yr, yv in panels:
        for v in xv:
            shapes.append(dict(type="line", xref=xr, yref=f"{yr} domain", x0=v, x1=v, y0=0, y1=1,
                               line=GRID, layer="above"))
        for v in yv:
            shapes.append(dict(type="line", xref=f"{xr} domain", yref=yr, x0=0, x1=1, y0=v, y1=v,
                               line=GRID, layer="above"))
        shapes.append(dict(type="rect", xref=f"{xr} domain", yref=f"{yr} domain", x0=0, x1=1, y0=0, y1=1,
                           line=dict(color="black", width=1), layer="above"))


def leader(points, color, width=1):
    path = "M " + " L ".join(f"{x / W:.5f},{1 - y / H:.5f}" for x, y in points)
    return dict(type="path", xref="paper", yref="paper", path=path, line=dict(color=color, width=width), layer="above")


leaders = [
    ([(72, 16), (135, 16), (157, 42)], "black"),
    ([(103, 43), (115, 43), (147, 80)], "#A83A3A"),
    ([(92, 81), (127, 81), (140, 97)], "#C81E1E"),
    ([(66, 102), (140, 102)], "#1E1E8C"),
    ([(104, 127), (125, 127), (143, 115)], "#5A5AA0"),
    ([(112, 141), (160, 141), (167, 150)], BROWN),
    ([(102, 158), (133, 158), (147, 147)], "#C83232"),
    ([(75, 173), (132, 173), (145, 152)], "#28A028"),
    ([(83, 184), (132, 184), (150, 172)], "#28A028"),
    ([(72, 195), (133, 195), (160, 173)], "#3246A0"),
    ([(82, 206), (132, 206), (157, 185)], "#3246A0"),
    ([(102, 217), (147, 217)], "#D03030"),
    ([(72, 267), (132, 267), (137, 262)], "black"),
    ([(108, 348), (133, 348), (140, 337)], "#C83232"),
    ([(95, 367), (139, 367)], NAVY),
    ([(88, 411), (137, 411)], NAVY),
    ([(102, 429), (112, 429), (173, 450)], "#8A3040"),
    ([(58, 468), (137, 468), (193, 457)], "black"),
    ([(58, 479), (133, 479), (145, 480)], "#404040"),
    ([(58, 490), (133, 490), (142, 500)], "#8A8A8A"),
    ([(58, 501), (133, 501), (143, 505)], "#C0C0C0"),
    ([(58, 511), (137, 511)], "#7EBEF0"),
    ([(67, 525), (127, 525), (138, 513)], "#E09A30"),
    ([(53, 557), (193, 557)], "#7EBEF0"),
    ([(47, 569), (193, 569)], "#8A8A8A"),
    ([(38, 581), (133, 581)], "#303030"),
    ([(28, 596), (218, 596)], "#E8B030"),
    ([(95, 616), (152, 616), (158, 607)], "black"),
]
for pts, col in leaders:
    shapes.append(leader(pts, col))

# ------------------------------------------------------------------ annotations
ann = []


def text(s, x, y, color="black", size=11, family=SANS, xanchor="left", angle=0, bg=None):
    d = dict(text=s, x=x / W, y=1 - y / H, xref="paper", yref="paper", showarrow=False,
             xanchor=xanchor, yanchor="middle", textangle=angle,
             font=dict(family=family, size=size, color=color))
    if bg:
        d.update(bgcolor=bg, borderpad=0)
    ann.append(d)


legend_labels = [
    ("Czas lokalny", 7, 16, "black"), ("(CET/CEST)", 7, 29, "black"),
    ("Temperatura gruntu", 7, 43, "#A83A3A"), ("max/min", 37, 55, "#A83A3A"),
    ("Temperatura:", 7, 69, "black"), ("punkt środkowy", 13, 81, "#C81E1E"),
    ("max/min", 57, 91, "#F2BDBD"), ("odczuwana", 13, 102, "#1E1E8C"),
    ("max/min", 57, 114, "#AFCBE8"), ("Temp. punktu rosy", 5, 127, "#5A5AA0"),
    ("Wilgotność względna", 3, 141, BROWN), ("Opad powyżej skali", 7, 158, "#C83232"),
    ("Deszcz: max", 7, 173, "#28A028"), ("średni", 50, 184, "#28A028"),
    ("Śnieg:", 7, 195, "#3246A0"), ("max", 51, 195, "#3246A0"), ("średni", 50, 206, "#3246A0"),
    ("Wystąpienie opadu", 3, 217, "#D03030"), ("konwekcyjnego", 3, 232, "#D03030"),
    ("Ciśnienie", 7, 253, "black"), ("zredukowane", 7, 267, "black"), ("do poziomu morza", 7, 280, "black"),
    ("Wiatr na 10m:", 6, 323, "black"), ("max porywy wiatru", 10, 348, "#C83232"),
    ("prędkość wiatru", 10, 367, NAVY), ("w środku obszaru", 10, 380, NAVY),
    ("kierunek wiatru", 8, 411, NAVY), ("Wierzchołek chmur", 6, 429, "#8A3040"),
    ("Podstawa chmur", 6, 443, "black"), ("o pokryciu", 6, 457, "black"),
    ("> 7.9 okt.", 12, 468, "black"), ("> 6.5 okt.", 12, 479, "#404040"),
    ("> 4.5 okt.", 12, 490, "#8A8A8A"), ("> 2.5 okt.", 12, 501, "#C0C0C0"),
    ("Widzialność", 6, 525, "#E09A30"), ("Chmury:", 6, 543, "black"),
    ("średnie", 12, 569, "#8A8A8A"), ("niskie", 12, 581, "#303030"),
    ("Mgła", 6, 596, "#E8B030"), ("Czas uniwersalny", 6, 616, "black"), ("(UTC)", 6, 628, "black"),
]
for s, x, y, c in legend_labels:
    text(s, x, y, c)
text("> 0.1 okt.", 12, 511, "white", bg="#5AAEEA")
text("wysokie", 12, 557, "white", bg="#7EBEF0")

# header
text("wschód słońca: 07:07 CET", 288, 7, family=NARROW)
text("zachód słońca: 15:36 CET", 291, 18, family=NARROW)
text("21°2'E, 52°12'N", 517, 7, family=NARROW)
text("(x=250, y=406)", 517, 18, family=NARROW)
text("wysokość (min, środek, max)", 822, 7, family=NARROW, xanchor="right")
text("74 - 92 - 113 m", 752, 18, family=NARROW, xanchor="center")
for s, x in [("czw, 21.11", 352), ("pią, 22.11", 519), ("sob, 23.11", 677)]:
    text(s, x, 33, family=NARROW, size=12)
for s, y in [("CET", 46), ("UTC", 613)]:
    text(s, 313, y, family=NARROW, size=12, xanchor="center")
    text(s, 791, y, family=NARROW, size=12, xanchor="center")

# dates under the 09 UTC ticks
for t in day_marks:
    ann.append(dict(text=f"{t:%d.%m}", x=t + pd.Timedelta(hours=1), y=1 - 628 / H, xref="x", yref="paper",
                    showarrow=False, xanchor="center", yanchor="middle",
                    font=dict(family=NARROW, size=11, color="black")))

# panel titles
titles = [
    (95, "temperatura", "(°C)", "(°C)", "temperatura"),
    (183, "opad", "(mm/h, kg/m^2/h)", "(%)", "wilgotność wzgl."),
    (269, "ciśnienie", "(hPa)", "(mm Hg)", "ciśnienie"),
    (354, "wiatr", "(m/s)", "(km/h)", "wiatr"),
    (476, "pion. rozciągł. chm.", "(km)", "(km)", "widzialność"),
    (565, "zachmurzenie", "(oktanty)", "(frakcja)", "mgła"),
]
for y, l_out, l_in, r_in, r_out in titles:
    text(l_out, 295, y, TITLE_C, 13, xanchor="center", angle=-90)
    text(l_in, 308, y, TITLE_C, 13, xanchor="center", angle=-90)
    text(r_in, 801, y, TITLE_C, 13, xanchor="center", angle=-90)
    text(r_out, 815, y, TITLE_C, 13, xanchor="center", angle=-90)

# compass glyphs beside the wind-direction strips
for cx in (316, 792):
    text("N", cx + 4, 403, TITLE_C, 8, xanchor="center")
    text("W", cx - 3, 410, TITLE_C, 8, xanchor="center")
    text("E", cx + 8, 411, TITLE_C, 8, xanchor="center")
    text("S", cx + 1, 418, TITLE_C, 8, xanchor="center")

fig.update_layout(
    width=W, height=H, margin=dict(l=0, r=0, t=0, b=0),
    paper_bgcolor="#FFF9EE", plot_bgcolor="rgba(0,0,0,0)",
    showlegend=False, barmode="overlay", bargap=0,
    shapes=shapes, annotations=ann, **layout_axes,
)

fig.write_html("out.html")
